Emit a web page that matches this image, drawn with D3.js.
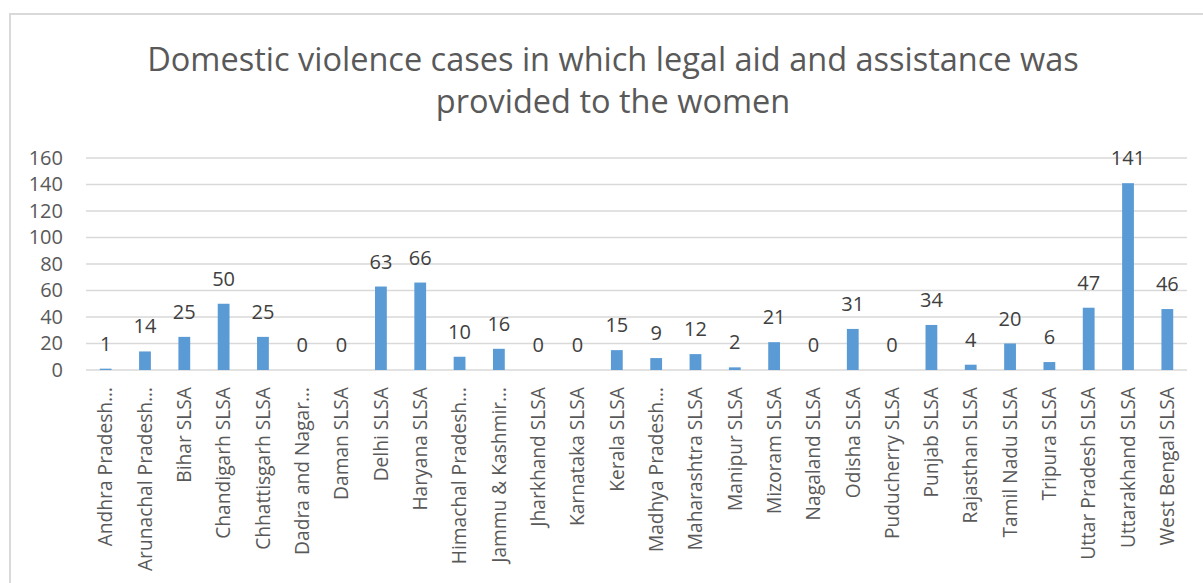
<!DOCTYPE html>
<html>
<head>
<meta charset="utf-8">
<title>Domestic violence legal aid</title>
<script src="https://cdn.jsdelivr.net/npm/d3@7"></script>
<style>
    body{ margin:0; background:#fff; }
    .frame{ fill:none; stroke:#d9d9d9; stroke-width:2; }
    .title{ font-family:"Open Sans",sans-serif; font-size:32.5px; fill:#595959; }
    .gridline{ stroke:#d9d9d9; stroke-width:1.5; }
    .tick text{ font-family:"Open Sans",sans-serif; font-size:20px; fill:#595959; }
    .catlabel{ font-family:"Open Sans",sans-serif; font-size:19.2px; fill:#595959; }
    .vlabel{ font-family:"Open Sans",sans-serif; font-size:20px; fill:#404040; }
    .bar{ fill:#5b9bd5; }
</style>
</head>
<body>
<script>
const W = 1203, H = 583

// data
const states = ["Andhra Pradesh SLSA","Arunachal Pradesh SLSA","Bihar SLSA","Chandigarh SLSA","Chhattisgarh SLSA",
    "Dadra and Nagar Haveli SLSA","Daman SLSA","Delhi SLSA","Haryana SLSA","Himachal Pradesh SLSA",
    "Jammu & Kashmir SLSA","Jharkhand SLSA","Karnataka SLSA","Kerala SLSA","Madhya Pradesh SLSA",
    "Maharashtra SLSA","Manipur SLSA","Mizoram SLSA","Nagaland SLSA","Odisha SLSA","Puducherry SLSA",
    "Punjab SLSA","Rajasthan SLSA","Tamil Nadu SLSA","Tripura SLSA","Uttar Pradesh SLSA",
    "Uttarakhand SLSA","West Bengal SLSA"]
const shownLabels = ["Andhra Pradesh…","Arunachal Pradesh…","Bihar SLSA","Chandigarh SLSA","Chhattisgarh SLSA",
    "Dadra and Nagar…","Daman SLSA","Delhi SLSA","Haryana SLSA","Himachal Pradesh…",
    "Jammu & Kashmir…","Jharkhand SLSA","Karnataka SLSA","Kerala SLSA","Madhya Pradesh…",
    "Maharashtra SLSA","Manipur SLSA","Mizoram SLSA","Nagaland SLSA","Odisha SLSA","Puducherry SLSA",
    "Punjab SLSA","Rajasthan SLSA","Tamil Nadu SLSA","Tripura SLSA","Uttar Pradesh SLSA",
    "Uttarakhand SLSA","West Bengal SLSA"]
const cases = [1,14,25,50,25,0,0,63,66,10,16,0,0,15,9,12,2,21,0,31,0,34,4,20,6,47,141,46]
const yTicks = [0,20,40,60,80,100,120,140,160]
const titleLines = ["Domestic violence cases in which legal aid and assistance was","provided to the women"]

const svg = d3.select("body").append("svg").attr("width",W).attr("height",H)

svg.append("rect").attr("class","frame")
    .attr("x",10).attr("y",14).attr("width",W+20).attr("height",H+20)

svg.selectAll(".title").data(titleLines).enter().append("text")
    .attr("class","title")
    .attr("x",613).attr("y",(d,i)=>71+i*42)
    .attr("text-anchor","middle")
    .text(d=>d)

const x = d3.scaleBand().domain(states).range([86,1187]).paddingInner(0.7).paddingOuter(0.35)
const y = d3.scaleLinear().domain([0,160]).range([370,158])

// grid + y axis
const yAxis = d3.axisLeft(y).tickValues(yTicks).tickSize(0).tickPadding(0)
const gy = svg.append("g").attr("transform","translate(63,0)").call(yAxis)
gy.select(".domain").remove()

svg.selectAll(".gridline").data(yTicks).enter().append("line")
    .attr("class","gridline")
    .attr("x1",86).attr("x2",1187)
    .attr("y1",d=>y(d)).attr("y2",d=>y(d))

// bars
svg.selectAll(".bar").data(cases).enter().append("rect")
    .attr("class","bar")
    .attr("x",(d,i)=>x(states[i]))
    .attr("width",x.bandwidth())
    .attr("y",d=>y(d))
    .attr("height",d=>y(0)-y(d))

svg.selectAll(".vlabel").data(cases).enter().append("text")
    .attr("class","vlabel")
    .attr("x",(d,i)=>x(states[i])+x.bandwidth()/2)
    .attr("y",d=>y(d)-18)
    .attr("text-anchor","middle")
    .text(d=>d)

// category labels, rotated
svg.selectAll(".catlabel").data(shownLabels).enter().append("text")
    .attr("class","catlabel")
    .attr("transform",(d,i)=>"translate("+(x(states[i])+x.bandwidth()/2)+",387) rotate(-90)")
    .attr("dy","0.35em")
    .attr("text-anchor","end")
    .text(d=>d)
</script>
</body>
</html>
